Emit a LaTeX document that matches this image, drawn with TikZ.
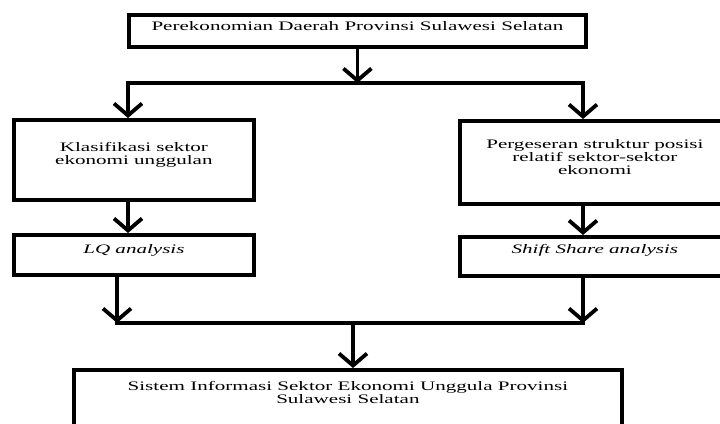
\documentclass[tikz,border=0pt]{standalone}
\usepackage{fontspec}
\setmainfont[FakeStretch=1.62]{Liberation Serif}
\usetikzlibrary{arrows.meta,positioning}

\begin{document}
\begin{tikzpicture}
    [
      x=1pt, y=-1pt,
      every node/.style={font=\fontsize{13}{13}\selectfont},
      flowbox/.style={draw, line width=3.8pt, anchor=north west, inner sep=0pt, align=center, minimum width=#1},
      arrow/.style={-{Straight Barb[length=12pt,width=28pt]}, line width=3.8pt},
      bar/.style={line width=3.8pt, line cap=rect}
    ]
    \useasboundingbox (0,0) rectangle (720,423);
    \clip (0,0) rectangle (720,423);
    % boxes
    \node (econ) [flowbox=457pt, text height=16pt, text depth=16pt] at (127,13) {Perekonomian Daerah Provinsi Sulawesi Selatan};
    \node (klas) [flowbox=240pt, text height=45pt, text depth=35pt] at (12,118) {Klasifikasi sektor\\ ekonomi unggulan};
    \node (perg) [flowbox=270pt, text height=54pt, text depth=29pt] at (458,119) {Pergeseran struktur posisi\\ relatif sektor-sektor\\ ekonomi};
    \node (lq) [flowbox=240pt, text height=19pt, text depth=21pt] at (12,233) {\itshape LQ analysis};
    \node (shift) [flowbox=270pt, text height=17pt, text depth=22pt] at (458,235) {\itshape Shift Share analysis};
    \node (info) [flowbox=548pt, text height=33.7pt, text depth=60pt, font=\fontsize{13}{11.7}\selectfont] at (72,368) {Sistem Informasi Sektor Ekonomi Unggula Provinsi\\ Sulawesi Selatan};
    % fork and join
    \coordinate (forkL) at (128,83);
    \coordinate (forkR) at (583,83);
    \coordinate (joinL) at (117,323);
    \coordinate (joinR) at (583,323);
    \coordinate (joinM) at (353,323);
    \draw [arrow] (econ.south) -- (econ.south |- forkL);
    \draw [bar] (forkL) -- (forkR);
    \foreach \i/\j in {forkL/klas, forkR/perg}
      \draw [arrow] (\i) -- (\i |- \j.north);
    \draw [arrow] (klas.south -| forkL) -- (lq.north -| forkL);
    \draw [arrow] (perg.south -| forkR) -- (shift.north -| forkR);
    \foreach \i/\j in {joinL/lq, joinR/shift}
      \draw [arrow] (\j.south -| \i) -- (\i);
    \draw [bar] (joinL) -- (joinR);
    \draw [arrow] (joinM) -- (joinM |- info.north);
\end{tikzpicture}
\end{document}
